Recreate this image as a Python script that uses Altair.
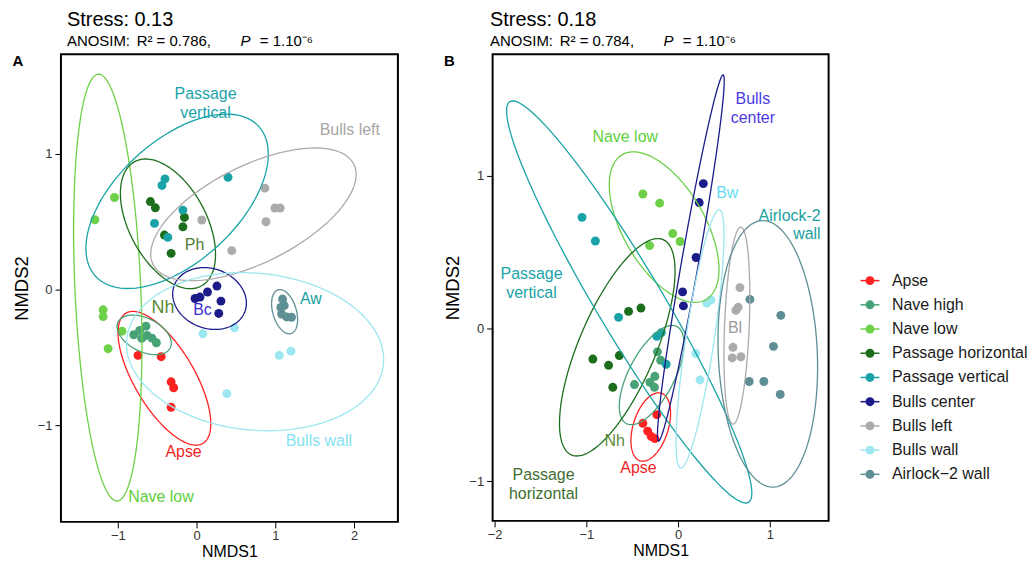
import math
import pandas as pd
import altair as alt

FONT = "Liberation Sans"

# ---------------- categories & colours ----------------
GROUPS = ["Apse", "Nave high", "Nave low", "Passage horizontal", "Passage vertical",
          "Bulls center", "Bulls left", "Bulls wall", "Airlock-2 wall"]
LEGEND_LABELS = ["Apse", "Nave high", "Nave low", "Passage horizontal", "Passage vertical",
                 "Bulls center", "Bulls left", "Bulls wall", "Airlock\u22122 wall"]
COLORS = ["#FF2121", "#47A276", "#6DD048", "#1C6E1C", "#19A3A6",
          "#1B1B8A", "#ABABAB", "#9CE7F0", "#5E8F94"]

# ---------------- panel A : points (NMDS1, NMDS2) ----------------
A_APSE = [(-0.743, -0.485), (-0.449, -0.495), (-0.323, -0.680), (-0.291, -0.724), (-0.323, -0.868)]
A_NAVE_HIGH = [(-0.797, -0.333), (-0.722, -0.301), (-0.642, -0.270), (-0.629, -0.338),
               (-0.566, -0.358), (-0.510, -0.392), (-0.696, -0.360)]
A_NAVE_LOW = [(-1.042, 0.679), (-1.291, 0.515), (-1.186, -0.149), (-1.186, -0.199),
              (-0.946, -0.307), (-1.123, -0.436)]
A_PASSAGE_H = [(-0.586, 0.649), (-0.523, 0.603), (-0.154, 0.532), (-0.173, 0.463),
               (-0.408, 0.402), (-0.323, 0.267)]
A_PASSAGE_V = [(-0.401, 0.816), (-0.439, 0.768), (0.400, 0.828), (-0.173, 0.586),
               (-0.534, 0.488), (-0.365, 0.385)]
A_BULLS_CENTER = [(-0.019, -0.066), (0.044, -0.055), (0.139, -0.018), (0.259, 0.026),
                  (0.310, -0.085), (0.282, -0.176)]
A_BULLS_LEFT = [(0.067, 0.513), (0.867, 0.748), (0.994, 0.601), (1.063, 0.601),
                (0.882, 0.500), (0.447, 0.287)]
A_BULLS_WALL = [(0.080, -0.326), (0.481, -0.282), (1.051, -0.485), (1.199, -0.454), (0.384, -0.767)]
A_AIRLOCK = [(1.092, -0.070), (1.070, -0.132), (1.080, -0.180), (1.143, -0.202),
             (1.206, -0.204), (1.114, -0.118)]

# ---------------- panel B : points ----------------
B_APSE = [(-0.232, -0.565), (-0.384, -0.622), (-0.332, -0.673), (-0.293, -0.708), (-0.253, -0.722)]
B_NAVE_HIGH = [(-0.225, -0.154), (-0.190, -0.209), (-0.253, -0.314), (-0.308, -0.353),
               (-0.476, -0.368), (-0.258, -0.386)]
B_NAVE_LOW = [(-0.384, 0.880), (-0.201, 0.820), (-0.058, 0.621), (0.022, 0.569), (-0.310, 0.542)]
B_PASSAGE_H = [(-0.540, 0.111), (-0.405, 0.133), (-0.929, -0.201), (-0.758, -0.242),
               (-0.641, -0.178), (-0.712, -0.386)]
B_PASSAGE_V = [(-1.047, 0.727), (-0.902, 0.572), (-0.649, 0.072), (-0.232, -0.052),
               (-0.183, -0.028), (-0.130, -0.235)]
B_BULLS_CENTER = [(0.275, 0.948), (0.230, 0.824), (0.196, 0.464), (0.049, 0.239), (0.058, 0.147)]
B_BULLS_LEFT = [(0.674, 0.267), (0.655, 0.139), (0.630, 0.118), (0.598, -0.124),
                (0.590, -0.194), (0.685, -0.186)]
B_BULLS_WALL = [(0.312, 0.165), (0.359, 0.186), (0.193, -0.165), (0.239, -0.338)]
B_AIRLOCK = [(0.783, 0.190), (1.120, 0.085), (1.040, -0.118), (0.775, -0.348),
             (0.935, -0.348), (1.114, -0.433)]

# ---------------- ellipses (centre, half-width, half-height, correlation), GROUPS order ----------------
A_ELL_CX = [-0.408, -0.665, -1.127, -0.363, -0.247, 0.165, 0.722, 0.743, 1.118]
A_ELL_CY = [-0.654, -0.334, 0.015, 0.485, 0.651, -0.066, 0.555, -0.458, -0.163]
A_ELL_WX = [0.589, 0.344, 0.434, 0.604, 1.158, 0.468, 1.304, 1.633, 0.165]
A_ELL_WY = [0.493, 0.146, 1.574, 0.478, 0.643, 0.228, 0.489, 0.583, 0.163]
A_ELL_R = [-0.68, -0.42, -0.268, -0.47, 0.54, -0.15, 0.60, -0.10, -0.36]

B_ELL_CX = [-0.298, -0.288, -0.152, -0.663, -0.533, 0.139, 0.641, 0.239, 0.978]
B_ELL_CY = [-0.646, -0.306, 0.663, -0.124, 0.173, 0.461, 0.018, -0.069, -0.167]
B_ELL_WX = [0.216, 0.353, 0.598, 0.630, 1.337, 0.364, 0.141, 0.261, 0.543]
B_ELL_WY = [0.224, 0.325, 0.493, 0.712, 1.317, 1.199, 0.645, 0.846, 0.873]
B_ELL_R = [0.40, 0.63, -0.56, 0.70, -0.95, 0.966, 0.30, 0.80, -0.10]

# ---------------- in-panel labels ----------------
A_LAB_TEXT = ["Passage\nvertical", "Bulls left", "Ph", "Nh", "Bc", "Aw", "Apse", "Bulls wall", "Nave low"]
A_LAB_X = [0.114, 1.946, -0.025, -0.427, 0.076, 1.452, -0.165, 1.553, -0.452]
A_LAB_Y = [1.445, 1.176, 0.331, -0.138, -0.149, -0.068, -1.196, -1.115, -1.532]
A_LAB_COLOR = ["#1AA3A8", "#A6A6A6", "#4E7A32", "#5B8A3A", "#3A2FD0", "#1AA0A0", "#F01E1E", "#84E2F0", "#5ECF40"]
A_LAB_SIZE = [16, 16, 16, 18, 16, 16, 16, 16, 16]

B_LAB_TEXT = ["Bulls\ncenter", "Nave low", "Bw", "Passage\nvertical", "Bl", "Nh", "Apse", "Passage\nhorizontal"]
B_LAB_X = [0.815, -0.576, 0.536, -1.598, 0.620, -0.692, -0.432, -1.467]
B_LAB_Y = [1.503, 1.250, 0.889, 0.353, 0.002, -0.739, -0.917, -0.961]
B_LAB_COLOR = ["#4A3AE0", "#5ECF40", "#66DDF5", "#1AA3A8", "#9A9A9A", "#5B8A3A", "#F01E1E", "#3E6E30"]
B_LAB_SIZE = [16, 16, 16, 16, 16, 16, 16, 16]
B_RLAB_TEXT = ["Airlock-2\nwall"]
B_RLAB_X = [1.554]
B_RLAB_Y = [0.739]
B_RLAB_COLOR = ["#1AA0A0"]

A_POINTS = [A_APSE, A_NAVE_HIGH, A_NAVE_LOW, A_PASSAGE_H, A_PASSAGE_V,
            A_BULLS_CENTER, A_BULLS_LEFT, A_BULLS_WALL, A_AIRLOCK]
B_POINTS = [B_APSE, B_NAVE_HIGH, B_NAVE_LOW, B_PASSAGE_H, B_PASSAGE_V,
            B_BULLS_CENTER, B_BULLS_LEFT, B_BULLS_WALL, B_AIRLOCK]


def points_df(point_lists):
    rows = []
    for g, pts in zip(GROUPS, point_lists):
        for (x, y) in pts:
            rows.append({"group": g, "x": x, "y": y})
    return pd.DataFrame(rows)


def ellipse_df(cx, cy, wx, wy, r, n=160):
    rows = []
    for g, a, b, sx, sy, rr in zip(GROUPS, cx, cy, wx, wy, r):
        s = math.sqrt(1 - rr * rr)
        for i in range(n + 1):
            t = 2 * math.pi * i / n
            rows.append({"group": g, "t": i,
                         "x": a + sx * math.cos(t),
                         "y": b + sy * (rr * math.cos(t) + s * math.sin(t))})
    return pd.DataFrame(rows)


def label_df(text, x, y, color, size):
    return pd.DataFrame({"text": text, "x": x, "y": y, "color": color, "size": size})


cscale = alt.Scale(domain=GROUPS, range=COLORS)


def panel(points, ell, labels, rlabels, xdom, ydom, xticks, yticks, w, h,
          stress, r2, tag, dx0):
    xenc = alt.X("x:Q", scale=alt.Scale(domain=xdom, nice=False, zero=False),
                 axis=alt.Axis(values=xticks, format="d", title="NMDS1", labelPadding=2,
                               titlePadding=1, titleFontSize=16))
    yenc = alt.Y("y:Q", scale=alt.Scale(domain=ydom, nice=False, zero=False),
                 axis=alt.Axis(values=yticks, format="d", title="NMDS2", titlePadding=6))
    pts = alt.Chart(points).mark_circle(size=80, opacity=1).encode(
        x=xenc, y=yenc, color=alt.Color("group:N", scale=cscale, legend=None))
    ells = alt.Chart(ell).mark_line(strokeWidth=1.3).encode(
        x="x:Q", y="y:Q", color=alt.Color("group:N", scale=cscale, legend=None),
        detail="group:N", order="t:Q")
    layers = [pts, ells]
    lab = alt.Chart(labels).mark_text(align="center", baseline="middle", font=FONT,
                                      lineBreak="\n", lineHeight=19).encode(
        x="x:Q", y="y:Q", text="text:N",
        color=alt.Color("color:N", scale=None, legend=None),
        size=alt.Size("size:Q", scale=None, legend=None))
    layers.append(lab)
    if rlabels is not None:
        rl = alt.Chart(rlabels).mark_text(align="right", baseline="middle", font=FONT,
                                          fontSize=16, lineBreak="\n", lineHeight=19).encode(
            x="x:Q", y="y:Q", text="text:N",
            color=alt.Color("color:N", scale=None, legend=None))
        layers.append(rl)

    def fixed_text(txt, dx, dy, size, weight="normal", style="normal"):
        return alt.Chart(pd.DataFrame({"t": [txt]})).mark_text(
            align="left", baseline="alphabetic", font=FONT, fontSize=size,
            fontWeight=weight, fontStyle=style, color="black").encode(
            x=alt.value(dx), y=alt.value(dy), text="t:N")

    layers += [
        fixed_text("Stress: " + stress, dx0, -28, 20),
        fixed_text("ANOSIM:", dx0, -8, 15),
        fixed_text("R\u00b2 = " + r2 + ",", dx0 + 70, -8, 15),
        fixed_text("P", dx0 + 174, -8, 15, style="italic"),
        fixed_text("= 1.10\u207b\u2076", dx0 + 193.5, -8, 15),
        fixed_text(tag, -48.7, 12, 15, weight="bold"),
    ]
    return alt.layer(*layers).resolve_scale(color="independent").properties(
        width=w, height=h,
        view=alt.ViewBackground(stroke="black", strokeWidth=2))


chartA = panel(points_df(A_POINTS),
               ellipse_df(A_ELL_CX, A_ELL_CY, A_ELL_WX, A_ELL_WY, A_ELL_R),
               label_df(A_LAB_TEXT, A_LAB_X, A_LAB_Y, A_LAB_COLOR, A_LAB_SIZE), None,
               [-1.722, 2.557], [-1.713, 1.735], [-1, 0, 1, 2], [-1, 0, 1],
               338, 469, "0.13", "0.786", "A", 6)

chartB = panel(points_df(B_POINTS),
               ellipse_df(B_ELL_CX, B_ELL_CY, B_ELL_WX, B_ELL_WY, B_ELL_R),
               label_df(B_LAB_TEXT, B_LAB_X, B_LAB_Y, B_LAB_COLOR, B_LAB_SIZE),
               pd.DataFrame({"text": B_RLAB_TEXT, "x": B_RLAB_X, "y": B_RLAB_Y, "color": B_RLAB_COLOR}),
               [-2.022, 1.641], [-1.261, 1.795], [-2, -1, 0, 1], [-1, 0, 1],
               337, 468, "0.18", "0.784", "B", -2.7)

# ---------------- legend panel ----------------
leg = pd.DataFrame({"label": LEGEND_LABELS, "group": GROUPS})
ly = alt.Y("label:N", sort=LEGEND_LABELS, axis=None,
           scale=alt.Scale(type="point", range=[227, 421.3], padding=0))
leg_rule = alt.Chart(leg).mark_rule(strokeWidth=1.5).encode(
    x=alt.value(0), x2=alt.value(19), y=ly,
    color=alt.Color("group:N", scale=cscale, legend=None))
leg_dot = alt.Chart(leg).mark_circle(size=80, opacity=1).encode(
    x=alt.value(9.5), y=ly, color=alt.Color("group:N", scale=cscale, legend=None))
leg_txt = alt.Chart(leg).mark_text(align="left", baseline="middle", font=FONT,
                                   fontSize=16, color="#1a1a1a").encode(
    x=alt.value(31.5), y=ly, text="label:N")
legend = alt.layer(leg_rule, leg_dot, leg_txt).properties(
    width=140, height=470, view=alt.ViewBackground(stroke="transparent"))

chart = alt.hconcat(alt.hconcat(chartA, chartB, spacing=44), legend, spacing=29).properties(
    padding={"left": 3.1, "top": 0.6, "right": -2, "bottom": -1}
).configure_axis(
    grid=False, domain=False, tickSize=6, tickColor="black", tickWidth=1,
    labelFont=FONT, labelFontSize=13, labelColor="#333333", labelPadding=3,
    titleFont=FONT, titleFontSize=18.5, titleColor="black", titleFontWeight="normal"
).configure_view(stroke="transparent")

chart.save("out.html", embed_options={"renderer": "svg", "actions": False})
